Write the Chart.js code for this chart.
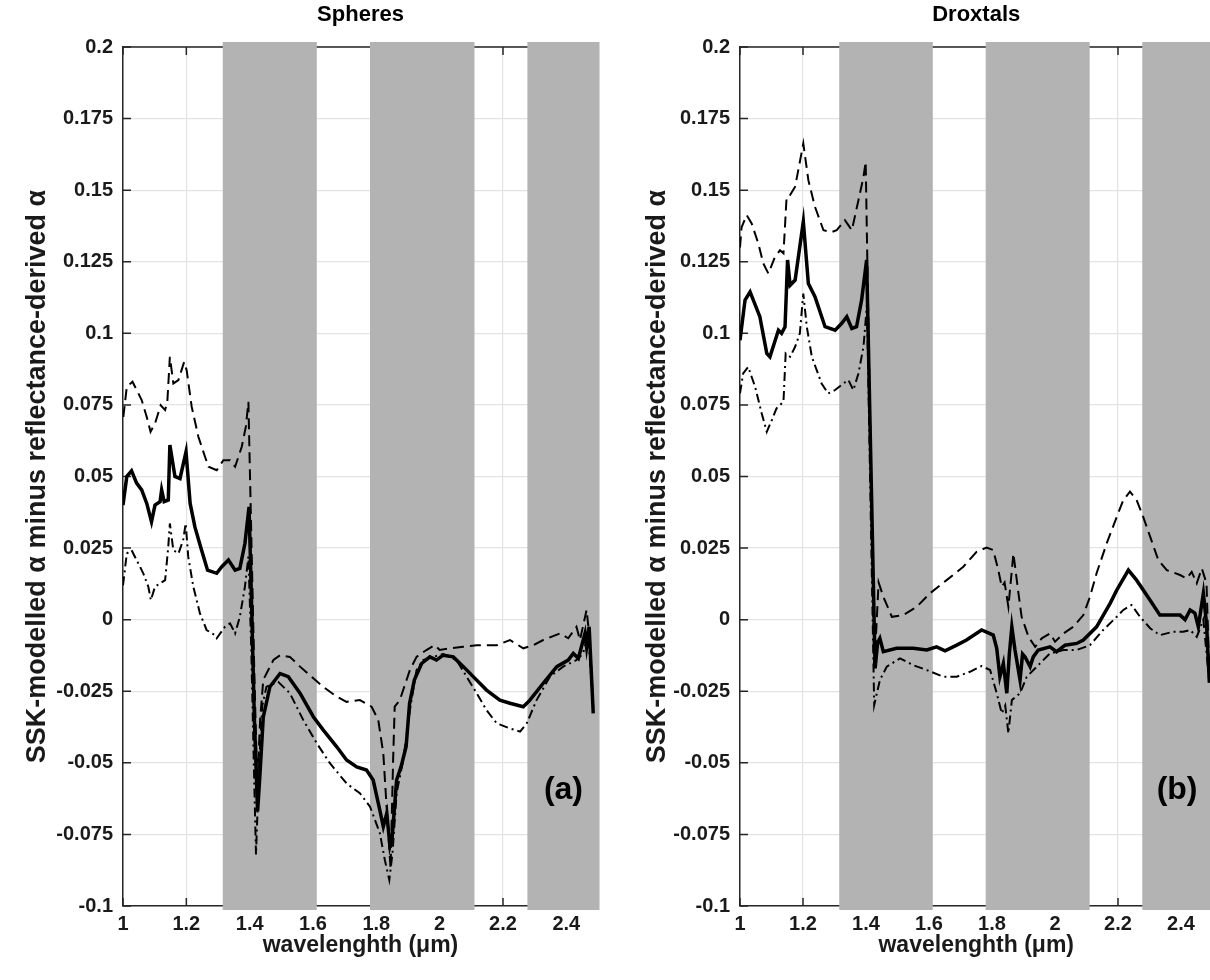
<!DOCTYPE html>
<html><head><meta charset="utf-8">
<script src="https://cdn.jsdelivr.net/npm/chart.js@4.4.0/dist/chart.umd.min.js"></script>
<style>
html,body{margin:0;padding:0;background:#fff;overflow:hidden;width:1210px;height:980px;position:relative;}
#c1{position:absolute;left:0;top:0;}
#c2{position:absolute;left:620px;top:0;}
</style></head><body>
<canvas id="c1" width="620" height="980"></canvas>
<canvas id="c2" width="600" height="980"></canvas>
<script>
// ---- axis ticks ----
const xTicks = [1, 1.2, 1.4, 1.6, 1.8, 2, 2.2, 2.4];
const yTicks = [-0.1, -0.075, -0.05, -0.025, 0, 0.025, 0.05, 0.075, 0.1, 0.125, 0.15, 0.175, 0.2];
// ---- shaded absorption bands (wavelength, µm) ----
const bands = [[1.315, 1.612], [1.78, 2.11], [2.277, 2.5]];

// ---- Spheres (a) ----
const sphSolidX = [1.0,1.012,1.027,1.043,1.059,1.075,1.09,1.101,1.117,1.122,1.13,1.143,1.148,1.164,1.18,1.199,1.212,1.227,1.248,1.267,1.296,1.312,1.333,1.354,1.369,1.385,1.398,1.405,1.415,1.425,1.432,1.443,1.464,1.496,1.522,1.559,1.601,1.632,1.675,1.706,1.738,1.769,1.79,1.811,1.822,1.833,1.843,1.85,1.864,1.878,1.894,1.905,1.92,1.943,1.969,1.99,2.011,2.043,2.075,2.106,2.148,2.19,2.222,2.264,2.285,2.327,2.37,2.406,2.422,2.438,2.459,2.464,2.472,2.485];
const sphSolidY = [0.040,0.050,0.052,0.0477,0.0453,0.0406,0.0342,0.040,0.0412,0.0453,0.0412,0.0418,0.061,0.050,0.0493,0.0586,0.0406,0.0324,0.0243,0.0173,0.0162,0.0185,0.0208,0.0173,0.0179,0.0266,0.0394,0.010,-0.035,-0.067,-0.055,-0.034,-0.0234,-0.0188,-0.0199,-0.0257,-0.0339,-0.0385,-0.0444,-0.049,-0.0514,-0.0525,-0.056,-0.0665,-0.0723,-0.0676,-0.079,-0.076,-0.056,-0.0514,-0.0444,-0.0292,-0.0211,-0.0153,-0.013,-0.0141,-0.0124,-0.013,-0.0164,-0.0199,-0.0246,-0.0281,-0.0292,-0.0304,-0.0281,-0.0222,-0.0164,-0.0141,-0.0118,-0.0135,-0.0048,-0.0095,-0.0025,-0.0327];

const sphDashX = [1.001,1.012,1.03,1.059,1.075,1.087,1.101,1.119,1.133,1.14,1.148,1.159,1.175,1.193,1.201,1.217,1.238,1.259,1.27,1.296,1.317,1.338,1.354,1.375,1.388,1.396,1.405,1.415,1.424,1.433,1.443,1.475,1.496,1.527,1.559,1.601,1.632,1.675,1.706,1.748,1.785,1.806,1.822,1.835,1.845,1.853,1.858,1.874,1.906,1.927,1.958,1.985,2.0,2.032,2.074,2.117,2.18,2.222,2.264,2.296,2.327,2.38,2.406,2.432,2.443,2.464,2.475,2.485];
const sphDashY = [0.0708,0.0813,0.0831,0.0767,0.0708,0.0656,0.0685,0.0749,0.0732,0.0761,0.0918,0.0825,0.0837,0.090,0.0871,0.0743,0.0639,0.0569,0.0534,0.0522,0.0557,0.0557,0.0534,0.0604,0.0674,0.0761,0.030,-0.020,-0.058,-0.035,-0.021,-0.0141,-0.0124,-0.013,-0.0164,-0.0205,-0.0234,-0.0269,-0.0287,-0.0281,-0.0304,-0.035,-0.0467,-0.070,-0.087,-0.049,-0.0304,-0.0281,-0.0176,-0.013,-0.0106,-0.0089,-0.0106,-0.010,-0.0095,-0.0089,-0.0089,-0.0071,-0.010,-0.0089,-0.0071,-0.0048,-0.0065,-0.0025,-0.0071,0.0034,-0.008,-0.031];

const sphDotX = [1.0,1.012,1.027,1.043,1.064,1.08,1.088,1.101,1.117,1.133,1.143,1.148,1.159,1.175,1.19,1.198,1.206,1.222,1.243,1.264,1.29,1.296,1.322,1.338,1.354,1.369,1.385,1.396,1.405,1.413,1.42,1.43,1.44,1.453,1.49,1.527,1.569,1.612,1.654,1.706,1.748,1.78,1.811,1.827,1.841,1.851,1.864,1.885,1.906,1.927,1.948,1.98,2.01,2.053,2.085,2.117,2.148,2.18,2.222,2.254,2.275,2.306,2.348,2.39,2.432,2.453,2.469,2.485];
const sphDotY = [0.012,0.0231,0.0243,0.0208,0.0162,0.0115,0.0068,0.0115,0.0127,0.0138,0.0255,0.0336,0.0243,0.0231,0.0278,0.0336,0.022,0.0115,0.0022,-0.0036,-0.0054,-0.0065,-0.0025,-0.0013,-0.0048,0.001,0.0115,0.022,-0.010,-0.050,-0.082,-0.050,-0.030,-0.0234,-0.0217,-0.0257,-0.035,-0.0432,-0.0502,-0.0572,-0.0606,-0.0653,-0.0745,-0.084,-0.0909,-0.0816,-0.0606,-0.049,-0.0316,-0.0176,-0.0141,-0.013,-0.012,-0.0141,-0.0199,-0.0257,-0.0316,-0.0362,-0.038,-0.0391,-0.0362,-0.0281,-0.0199,-0.0164,-0.0141,-0.0118,-0.0048,-0.031];

// ---- Droxtals (b) ----
const drxSolidX = [1.0,1.016,1.032,1.063,1.085,1.095,1.122,1.132,1.143,1.151,1.159,1.175,1.201,1.217,1.238,1.27,1.302,1.323,1.339,1.355,1.37,1.386,1.402,1.429,1.437,1.444,1.455,1.497,1.55,1.593,1.624,1.651,1.688,1.719,1.767,1.804,1.815,1.825,1.836,1.847,1.855,1.863,1.873,1.889,1.897,1.905,1.921,1.931,1.947,1.984,2.005,2.032,2.069,2.09,2.132,2.175,2.196,2.233,2.259,2.302,2.333,2.365,2.397,2.413,2.429,2.444,2.455,2.471,2.481,2.49];
const drxSolidY = [0.0976,0.1116,0.1145,0.1058,0.093,0.0918,0.1011,0.100,0.1023,0.1256,0.1168,0.1186,0.139,0.1174,0.1128,0.1023,0.1011,0.1035,0.1058,0.1017,0.1023,0.1116,0.1256,-0.017,-0.008,-0.0065,-0.0112,-0.010,-0.010,-0.0106,-0.0095,-0.0109,-0.0089,-0.0071,-0.0036,-0.0054,-0.010,-0.0199,-0.0153,-0.0257,-0.012,-0.0025,-0.0106,-0.0211,-0.012,-0.013,-0.0164,-0.013,-0.0106,-0.0095,-0.0112,-0.0089,-0.0083,-0.0071,-0.0025,0.0057,0.0103,0.0173,0.0138,0.0068,0.0016,0.0016,0.0016,0.0,0.0034,0.0023,-0.0025,0.0092,-0.0013,-0.022];

const drxDashX = [1.0,1.005,1.021,1.037,1.058,1.074,1.09,1.111,1.127,1.138,1.148,1.159,1.175,1.201,1.217,1.238,1.265,1.291,1.307,1.333,1.344,1.355,1.376,1.392,1.399,1.426,1.44,1.455,1.482,1.518,1.561,1.603,1.656,1.709,1.751,1.783,1.804,1.82,1.831,1.84,1.852,1.868,1.884,1.894,1.916,1.937,1.958,1.984,2.0,2.027,2.058,2.09,2.111,2.132,2.164,2.196,2.217,2.238,2.259,2.28,2.302,2.328,2.355,2.397,2.418,2.434,2.45,2.466,2.481,2.49];
const drxDashY = [0.130,0.137,0.1413,0.1384,0.1314,0.1244,0.1209,0.1267,0.129,0.1279,0.1477,0.1483,0.1512,0.1663,0.1535,0.1442,0.136,0.1354,0.136,0.1395,0.1378,0.136,0.1465,0.1546,0.1599,-0.018,0.013,0.008,0.001,0.0016,0.0045,0.0092,0.0138,0.0185,0.0237,0.0252,0.0243,0.0173,0.0115,0.013,0.0045,0.0231,0.0092,0.001,-0.006,-0.0095,-0.0065,-0.0048,-0.0077,-0.0048,-0.0025,0.0016,0.008,0.0162,0.0266,0.0359,0.0418,0.0447,0.0418,0.0359,0.029,0.0208,0.0173,0.0156,0.0144,0.0167,0.0127,0.0179,0.0127,-0.020];

const drxDotX = [1.0,1.01,1.026,1.048,1.069,1.085,1.101,1.116,1.138,1.145,1.159,1.175,1.19,1.201,1.212,1.228,1.259,1.28,1.302,1.328,1.344,1.36,1.376,1.392,1.403,1.426,1.444,1.466,1.508,1.55,1.593,1.645,1.688,1.73,1.767,1.794,1.815,1.831,1.842,1.852,1.863,1.889,1.91,1.942,1.984,2.027,2.069,2.111,2.153,2.196,2.217,2.243,2.27,2.302,2.333,2.376,2.407,2.429,2.45,2.471,2.49];
const drxDotY = [0.079,0.086,0.0883,0.0813,0.072,0.0656,0.0697,0.0738,0.0761,0.093,0.0918,0.0953,0.100,0.1139,0.1023,0.0918,0.0825,0.079,0.0802,0.0825,0.0837,0.0802,0.086,0.0953,0.110,-0.0298,-0.0211,-0.0164,-0.0135,-0.0159,-0.0176,-0.0199,-0.0199,-0.0182,-0.0162,-0.0176,-0.0257,-0.0327,-0.030,-0.0397,-0.0281,-0.0257,-0.020,-0.0164,-0.0118,-0.0106,-0.0106,-0.0089,-0.0036,0.001,0.0034,0.0051,0.001,-0.003,-0.0054,-0.0042,-0.0042,-0.0036,-0.006,0.0,-0.022];

const FONT = "'Liberation Sans', Arial, Helvetica, sans-serif";
const INK = '#1a1a1a';

function pts(xs, ys) { return xs.map((v, i) => ({x: v, y: ys[i]})); }
function fmt(v) { return String(Number(v.toFixed(3))); }

const framePlugin = {
  id: 'frame',
  beforeDatasetsDraw(chart) {
    const {ctx, chartArea: a, scales: {x, y}} = chart;
    ctx.save();
    ctx.strokeStyle = '#262626';
    ctx.lineWidth = 1.5;
    ctx.beginPath();
    ctx.moveTo(a.left, a.top); ctx.lineTo(a.right, a.top); ctx.lineTo(a.right, a.bottom);
    ctx.stroke();
    ctx.beginPath();
    xTicks.forEach(v => {
      const px = x.getPixelForValue(v);
      ctx.moveTo(px, a.bottom); ctx.lineTo(px, a.bottom - 8);
      ctx.moveTo(px, a.top); ctx.lineTo(px, a.top + 8);
    });
    yTicks.forEach(v => {
      const py = y.getPixelForValue(v);
      ctx.moveTo(a.left, py); ctx.lineTo(a.left + 8, py);
      ctx.moveTo(a.right, py); ctx.lineTo(a.right - 8, py);
    });
    ctx.stroke();
    ctx.fillStyle = '#b3b3b3';
    bands.forEach(([b0, b1]) => {
      const x0 = x.getPixelForValue(b0);
      let x1 = x.getPixelForValue(b1);
      if (b1 >= x.max) x1 += 1.5;
      ctx.fillRect(x0, a.top - 5, x1 - x0, a.bottom - a.top + 9);
    });
    ctx.restore();
  },
  afterDatasetsDraw(chart, args, opts) {
    const {ctx, chartArea: a} = chart;
    ctx.save();
    ctx.fillStyle = '#000';
    ctx.textBaseline = 'middle';
    ctx.textAlign = 'center';
    ctx.font = 'bold 22px ' + FONT;
    ctx.fillText(opts.title, (a.left + a.right) / 2, 15);
    ctx.font = 'bold 32px ' + FONT;
    ctx.textAlign = 'right';
    ctx.fillText(opts.label, a.right - 15, a.top + (a.bottom - a.top) * 0.865);
    ctx.restore();
  }
};

function makeChart(id, title, label, sets, padRight, yWidth) {
  return new Chart(document.getElementById(id), {
    type: 'line',
    data: {
      datasets: [
        {data: pts(sets[2][0], sets[2][1]), borderColor: '#000', borderWidth: 2, borderDash: [9, 4, 2, 4], pointRadius: 0, tension: 0, fill: false},
        {data: pts(sets[1][0], sets[1][1]), borderColor: '#000', borderWidth: 2, borderDash: [11, 6], pointRadius: 0, tension: 0, fill: false},
        {data: pts(sets[0][0], sets[0][1]), borderColor: '#000', borderWidth: 3.5, pointRadius: 0, tension: 0, fill: false}
      ]
    },
    options: {
      responsive: false, animation: false,
      layout: {padding: {left: 0, right: padRight, top: 47, bottom: 0}},
      plugins: {
        legend: {display: false}, tooltip: {enabled: false}, title: {display: false},
        frame: {label: label, title: title}
      },
      scales: {
        x: {
          type: 'linear', min: 1, max: 2.5,
          afterBuildTicks: s => { s.ticks = xTicks.map(v => ({value: v})); },
          afterFit: s => { s.height = 74; },
          ticks: {autoSkip: false, maxRotation: 0, padding: 6, color: INK, font: {family: FONT, size: 20, weight: 'bold'}, callback: v => fmt(v)},
          grid: {color: '#e3e3e3', lineWidth: 1.2, drawTicks: false},
          border: {color: '#262626', width: 1.5},
          title: {display: true, text: 'wavelenghth (μm)', color: INK, font: {family: FONT, size: 23, weight: 'bold', lineHeight: 1.2}, padding: {top: 0, bottom: 21}}
        },
        y: {
          type: 'linear', min: -0.1, max: 0.2,
          afterBuildTicks: s => { s.ticks = yTicks.map(v => ({value: v})); },
          afterFit: s => { s.width = yWidth; },
          ticks: {autoSkip: false, padding: 10, color: INK, font: {family: FONT, size: 20, weight: 'bold'}, callback: v => fmt(v)},
          grid: {color: '#e3e3e3', lineWidth: 1.2, drawTicks: false},
          border: {color: '#262626', width: 1.5},
          title: {display: true, text: 'SSK-modelled α minus reflectance-derived α', color: INK, font: {family: FONT, size: 27, weight: 'bold', lineHeight: 1.2}, padding: {top: 21, bottom: 0}}
        }
      }
    },
    plugins: [framePlugin]
  });
}

makeChart('c1', 'Spheres', '(a)', [[sphSolidX, sphSolidY], [sphDashX, sphDashY], [sphDotX, sphDotY]], 22, 123);
makeChart('c2', 'Droxtals', '(b)', [[drxSolidX, drxSolidY], [drxDashX, drxDashY], [drxDotX, drxDotY]], 7.5, 120);
</script>
</body></html>
